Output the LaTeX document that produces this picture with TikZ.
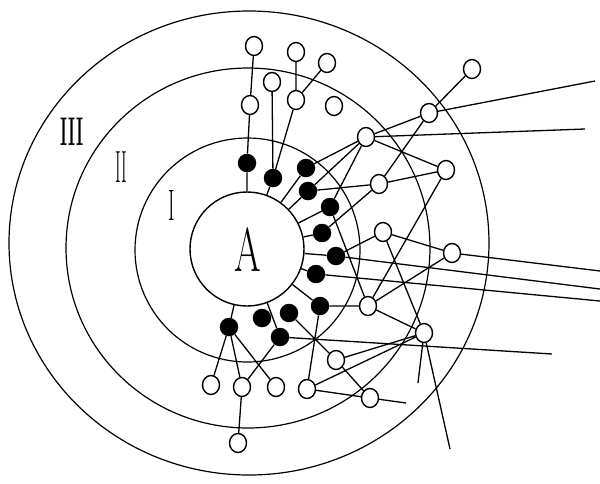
\documentclass[tikz,border=0pt]{standalone}
\usetikzlibrary{backgrounds,shapes.geometric}
\tikzset{
  onode/.style={ellipse,draw,fill=white,line width=1.4pt,minimum width=17pt,minimum height=19pt,inner sep=0pt},
  fnode/.style={circle,fill=black,minimum size=18.5pt,inner sep=0pt},
  ringl/.style={line width=1.2pt},
  lnk/.style={line width=1.3pt}
}
\begin{document}
\begin{tikzpicture}[x=1pt,y=-1pt]
\useasboundingbox (0,0) rectangle (600,483);
% rings
\draw[ringl] (249,243) ellipse [x radius=240, y radius=232];
\draw[ringl] (248,248) ellipse [x radius=182, y radius=180];
\draw[ringl] (247.5,250) ellipse [x radius=112.5, y radius=112];
\node[circle,draw,line width=1.4pt,minimum size=114pt,inner sep=0pt] (A) at (247,249) {};
\node (Alab) at (248,250) {\fontsize{62}{62}\selectfont\scalebox{0.62}[1]{A}};
\node (L3) at (72,132) {\fontsize{40}{40}\selectfont\scalebox{0.42}[1]{\bfseries III}};
\node (L2) at (121,167) {\fontsize{45}{45}\selectfont\scalebox{0.38}[1]{II}};
\node (L1) at (172,205) {\fontsize{44}{44}\selectfont\scalebox{0.45}[1]{I}};
% open nodes
\node[onode] (T1) at (254,46) {};
\node[onode] (T2) at (296,52) {};
\node[onode] (T3) at (327,63) {};
\node[onode] (T6) at (272,82) {};
\node[onode] (T4) at (250,105) {};
\node[onode] (T5) at (296,100) {};
\node[onode] (T7) at (334,106) {};
\node[onode] (T8) at (472,69) {};
\node[onode] (Nc) at (429,113) {};
\node[onode] (Na) at (366,137) {};
\node[onode] (Nd) at (446,170) {};
\node[onode] (Nb) at (379,184) {};
\node[onode] (Ne1) at (383,232) {};
\node[onode] (Ng) at (452,253) {};
\node[onode] (Ne) at (368,306) {};
\node[onode] (Nf) at (424,333) {};
\node[onode] (Nh) at (336,360) {};
\node[onode] (B1) at (211,385) {};
\node[onode] (B2) at (242,387) {};
\node[onode] (B3) at (276,387) {};
\node[onode] (B4) at (307,389) {};
\node[onode] (B5) at (370,398) {};
\node[onode] (B6) at (238,443) {};
% filled nodes
\node[fnode] (F0) at (247,163) {};
\node[fnode] (Fb) at (273,178) {};
\node[fnode] (F1) at (306,168) {};
\node[fnode] (F2) at (308,191) {};
\node[fnode] (F3) at (330,207) {};
\node[fnode] (F4) at (322,233) {};
\node[fnode] (F5) at (336,256) {};
\node[fnode] (F6) at (316,274) {};
\node[fnode] (F7) at (320,306) {};
\node[fnode] (F8) at (289,313) {};
\node[fnode] (F9) at (262,318) {};
\node[fnode] (F10) at (229,327) {};
\node[fnode] (F11) at (280,337) {};
% free ends
\coordinate (e1) at (600,271);
\coordinate (e2) at (600,289);
\coordinate (e3) at (600,301);
\coordinate (e4) at (552,354);
\coordinate (e5) at (406,403);
\coordinate (e6) at (585,129);
\coordinate (e7) at (595,81);
\coordinate (e8) at (418,383);
\coordinate (e9) at (450,449);
\begin{pgfonlayer}{background}
\fill[white] (0,0) rectangle (600,483);
\draw[lnk] (T1) -- (T4) (T4) -- (F0) (F0) -- (A)
  (T2) -- (T5) (T3) -- (T5) (T5) -- (Fb) (T6) -- (Fb) (Fb) -- (A);
\draw[lnk] (F1) -- (A) (F1) -- (Na)
  (F2) -- (A) (F2) -- (Na) (F2) -- (Nb)
  (F3) -- (A) (F3) -- (Na) (F3) -- (Ne)
  (F4) -- (A) (F4) -- (Nb)
  (F5) -- (A) (F5) -- (Ne1) (F5) -- (e2)
  (F6) -- (A) (F6) -- (e3)
  (F7) -- (A) (F7) -- (Ne) (F7) -- (B4)
  (F8) -- (Nh)
  (F11) -- (A) (F11) -- (B2) (F11) -- (e4)
  (F10) -- (A) (F10) -- (B1) (F10) -- (B2) (F10) -- (B3)
  (B2) -- (B6);
\draw[lnk] (Nh) -- (Nf) (Nh) -- (B5) (B4) -- (B5) (B4) -- (Nf) (B5) -- (e5)
  (Ne) -- (Nf) (Ne1) -- (Nf) (Ne1) -- (Ng) (Nd) -- (Ne) (Ng) -- (Ne) (Ng) -- (e1)
  (Nb) -- (Nc) (Nb) -- (Nd) (Na) -- (Nc) (Na) -- (Nd) (Na) -- (e6)
  (Nc) -- (e7) (Nc) -- (T8) (Nf) -- (e8) (Nf) -- (e9);
\end{pgfonlayer}
\end{tikzpicture}
\end{document}
